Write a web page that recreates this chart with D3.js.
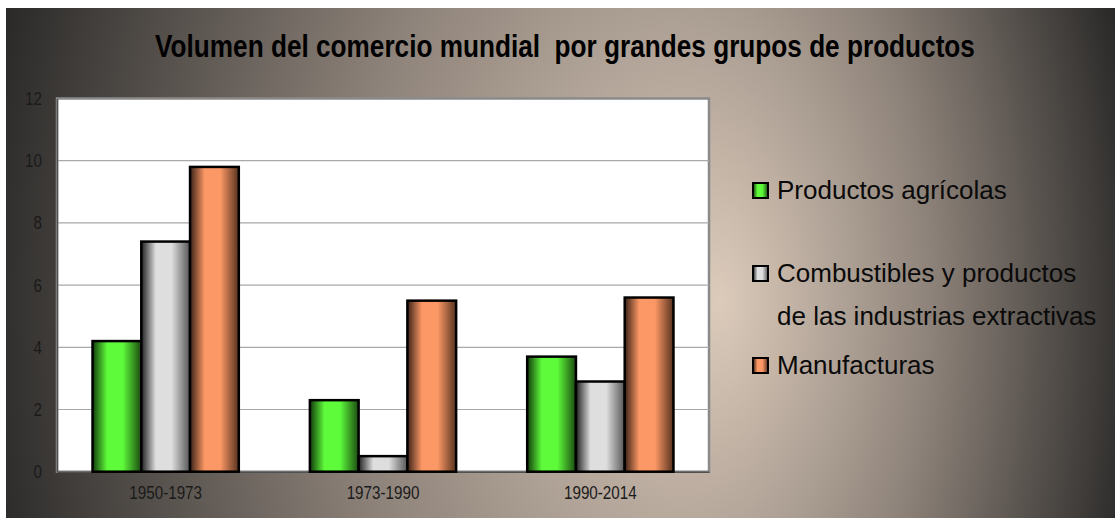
<!DOCTYPE html>
<html>
<head>
<meta charset="utf-8">
<script src="https://d3js.org/d3.v7.min.js"></script>
<style>
  body { margin: 0; background: #ffffff; }
  svg { display: block; font-family: "Liberation Sans", Arial, sans-serif; }
  .titulo { white-space: pre; }
</style>
</head>
<body>
<script>
// data
var periodos = ["1950-1973", "1973-1990", "1990-2014"];
var series = ["Productos agrícolas", "Combustibles y productos de las industrias extractivas", "Manufacturas"];
var agricolas = [4.2, 2.3, 3.7];
var combustibles = [7.4, 0.5, 2.9];
var manufacturas = [9.8, 5.5, 5.6];
var yTicks = [0, 2, 4, 6, 8, 10, 12];

var valores = [agricolas, combustibles, manufacturas];
var colores = [
  { dark: "#123a0b", light: "#5efb3a", right: "#1a4a10" },
  { dark: "#202020", light: "#dedede", right: "#565656" },
  { dark: "#3a2116", light: "#fc9865", right: "#56321f" }
];

var W = 1115, H = 518;
var plot = { left: 57, right: 709, top: 98.5, bottom: 471.7 };

var svg = d3.select("body").append("svg")
  .attr("width", W)
  .attr("height", H);

var defs = svg.append("defs");

// background: warm radial shading
var bg = defs.append("radialGradient")
  .attr("id", "bg")
  .attr("gradientUnits", "userSpaceOnUse")
  .attr("cx", 560).attr("cy", 300).attr("r", 580)
  .attr("fx", 720).attr("fy", 300)
  .attr("gradientTransform", "translate(0,300) scale(1,1.6) translate(0,-300)");
bg.append("stop").attr("offset", 0).attr("stop-color", "#dccbbb");
bg.append("stop").attr("offset", 0.5).attr("stop-color", "#8e837a");
bg.append("stop").attr("offset", 1).attr("stop-color", "#2b2a29");

// bar gradients (cylinder look)
colores.forEach(function (c, i) {
  var g = defs.append("linearGradient")
    .attr("id", "bar" + i)
    .attr("x1", 0).attr("x2", 1).attr("y1", 0).attr("y2", 0);
  g.append("stop").attr("offset", 0).attr("stop-color", c.dark);
  g.append("stop").attr("offset", 0.3).attr("stop-color", c.light);
  g.append("stop").attr("offset", 0.62).attr("stop-color", c.light);
  g.append("stop").attr("offset", 1).attr("stop-color", c.right);
});

svg.append("rect")
  .attr("x", 6).attr("y", 8)
  .attr("width", W - 6).attr("height", H - 8)
  .attr("fill", "url(#bg)");

// title, squeezed to the width it has in the original
var titulo = svg.append("g")
  .attr("transform", "translate(565,57)")
  .append("text")
    .attr("class", "titulo")
    .attr("x", 0)
    .attr("y", 0)
    .attr("text-anchor", "middle")
    .attr("font-size", 31)
    .attr("font-weight", "bold")
    .attr("fill", "#000")
    .text("Volumen del comercio mundial  por grandes grupos de productos");
var tLen = titulo.node().getComputedTextLength();
titulo.attr("transform", "scale(" + (820 / tLen) + ",1)");

// scales
var x0 = d3.scaleBand()
  .domain(periodos)
  .range([plot.left, plot.right])
  .paddingInner(0.327)
  .paddingOuter(0.1635);

var x1 = d3.scaleBand()
  .domain(d3.range(series.length))
  .range([0, x0.bandwidth()]);

var y = d3.scaleLinear()
  .domain([0, 12])
  .range([plot.bottom, plot.top]);

// plot area
svg.append("rect")
  .attr("x", plot.left).attr("y", plot.top)
  .attr("width", plot.right - plot.left)
  .attr("height", plot.bottom - plot.top)
  .attr("fill", "#ffffff")
  .attr("stroke", "#8a8a8a")
  .attr("stroke-width", 2.5);

// grid lines
svg.append("g")
  .selectAll("line")
  .data(yTicks.filter(function (d) { return d > 0 && d < 12; }))
  .enter()
  .append("line")
    .attr("x1", plot.left).attr("x2", plot.right)
    .attr("y1", function (d) { return y(d); })
    .attr("y2", function (d) { return y(d); })
    .attr("stroke", "#a9a9a9")
    .attr("stroke-width", 1.2);

// Y axis
var yAxis = svg.append("g")
  .attr("transform", "translate(" + plot.left + ",0)")
  .call(d3.axisLeft(y).tickValues(yTicks).tickSize(0).tickPadding(15));
yAxis.select(".domain").attr("stroke", "#505050").attr("stroke-width", 1.5);
yAxis.attr("font-size", 19);
yAxis.selectAll("text")
  .attr("fill", "#1a1a1a")
  .attr("font-family", "'Liberation Sans', Arial, sans-serif");

// X axis
var xAxis = svg.append("g")
  .attr("transform", "translate(0," + plot.bottom + ")")
  .call(d3.axisBottom(x0).tickSize(0).tickPadding(14));
xAxis.select(".domain").attr("stroke", "#505050").attr("stroke-width", 1.5);
xAxis.attr("font-size", 19);
xAxis.selectAll("text")
  .attr("fill", "#1a1a1a")
  .attr("font-family", "'Liberation Sans', Arial, sans-serif");

// squeeze the axis labels, like the original
function condense(sel, k) {
  sel.each(function () {
    var len = this.getComputedTextLength();
    d3.select(this)
      .attr("textLength", len * k)
      .attr("lengthAdjust", "spacingAndGlyphs");
  });
}
condense(yAxis.selectAll("text"), 0.8);
condense(xAxis.selectAll("text"), 0.8);

// bars
var groups = svg.append("g")
  .selectAll("g")
  .data(periodos)
  .enter()
  .append("g")
    .attr("transform", function (d) { return "translate(" + x0(d) + ",0)"; });

groups.selectAll("rect")
  .data(function (d, i) {
    return valores.map(function (v, s) { return { s: s, value: v[i] }; });
  })
  .enter()
  .append("rect")
    .attr("x", function (d) { return x1(d.s); })
    .attr("width", x1.bandwidth())
    .attr("y", function (d) { return y(d.value); })
    .attr("height", function (d) { return plot.bottom - y(d.value); })
    .attr("fill", function (d) { return "url(#bar" + d.s + ")"; })
    .attr("stroke", "#000")
    .attr("stroke-width", 2.5);

// legend
var legendItems = [
  { s: 0, lines: ["Productos agrícolas"], y: 199 },
  { s: 1, lines: ["Combustibles y productos", "de las industrias extractivas"], y: 282 },
  { s: 2, lines: ["Manufacturas"], y: 374 }
];

var legend = svg.append("g");
legendItems.forEach(function (it) {
  legend.append("rect")
    .attr("x", 753).attr("y", it.y - 16)
    .attr("width", 15).attr("height", 15)
    .attr("fill", "url(#bar" + it.s + ")")
    .attr("stroke", "#000")
    .attr("stroke-width", 2);
  var t = legend.append("text")
    .attr("x", 777)
    .attr("y", it.y)
    .attr("font-size", 26)
    .attr("fill", "#0a0a0a");
  it.lines.forEach(function (l, k) {
    t.append("tspan")
      .attr("x", 777)
      .attr("dy", k === 0 ? 0 : 43)
      .text(l);
  });
});
</script>
</body>
</html>
